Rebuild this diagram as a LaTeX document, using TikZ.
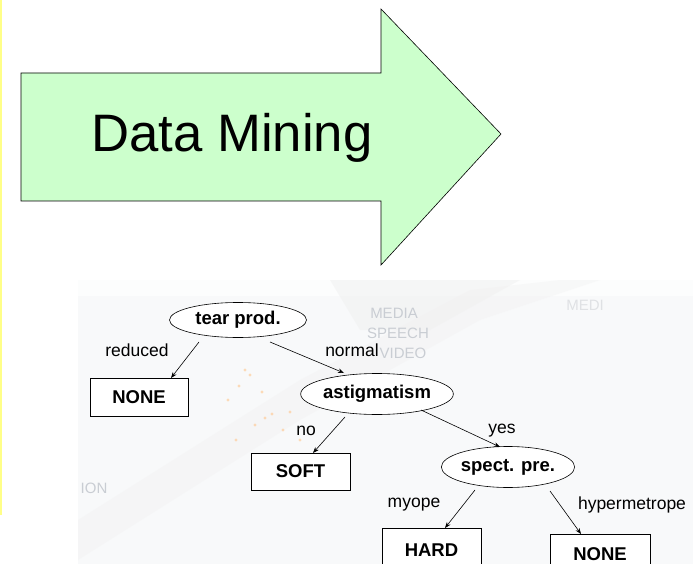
\documentclass[tikz,border=0pt]{standalone}
\usepackage{fontspec}
\setmainfont{Liberation Sans}
\usetikzlibrary{arrows.meta,shapes.geometric}
\definecolor{arrowgreen}{HTML}{CCFFCC}
\definecolor{sideyellow}{HTML}{FFFF88}
\definecolor{bgpale}{HTML}{F8F9FA}
\definecolor{faint}{HTML}{C9CDD3}
\begin{document}
\begin{tikzpicture}[x=1pt,y=-1pt,
  decision/.style={draw=black,fill=white,ellipse,line width=0.6pt,inner sep=0pt,font=\fontsize{18.5}{20}\selectfont\bfseries},
  leaf/.style={draw=black,fill=white,rectangle,line width=0.6pt,inner sep=0pt,font=\fontsize{18.5}{20}\selectfont\bfseries},
  edgelabel/.style={font=\fontsize{17.5}{19}\selectfont,inner sep=0pt},
  branch/.style={draw=black,line width=0.6pt,-{Stealth[length=6pt,width=4.5pt]}},
  bgtext/.style={text=faint,font=\fontsize{15}{17}\selectfont,inner sep=0pt}]
\useasboundingbox (0,0) rectangle (693,564);
\fill[white] (0,0) rectangle (693,564);
% side yellow line
\fill[sideyellow] (0,0) rectangle (2.2,515);
% big arrow
\draw[fill=arrowgreen,line width=0.6pt] (21,73) -- (381,73) -- (381,9) -- (501,134) -- (381,265) -- (381,201) -- (21,201) -- cycle;
\node (title) [font=\fontsize{52.7}{56}\selectfont,inner sep=0pt] at (232,138) {Data Mining};
% background photo area
\fill[bgpale] (78,280) rectangle (693,564);
\fill[white,opacity=0.7] (78,280) rectangle (693,296);
\fill[black!6,opacity=0.35] (78,520) -- (300,380) -- (470,290) -- (560,280) -- (600,280) -- (480,320) -- (300,420) -- (78,560) -- cycle;
\fill[black!6,opacity=0.5] (330,280) -- (520,280) -- (430,330) -- (360,330) -- cycle;
\node[bgtext] at (394,313) {MEDIA};
\node[bgtext] at (398,333) {SPEECH};
\node[bgtext] at (403,353) {VIDEO};
\node[bgtext] at (94,488) {ION};
\node[bgtext,text=faint!60] at (585,305) {MEDI};
\foreach \px/\py in {245/370,262/392,228/400,272/414,255/425,290/412,300/440,236/440,250/375,283/430,265/418,239/386}
  \fill[orange!45,opacity=0.6] (\px,\py) circle (1.6);
% tree
\node (tear) [decision,minimum width=137pt,minimum height=35pt] at (238,320) {tear prod.};
\node (none1) [leaf,minimum width=98pt,minimum height=38pt] at (139,397) {NONE};
\node (astig) [decision,minimum width=135pt,minimum height=41pt] at (377,394) {astigmatism};
\node (soft) [leaf,minimum width=99pt,minimum height=37pt] at (300.5,471.5) {SOFT};
\node (spect) [decision,minimum width=130pt,minimum height=41pt] at (508,467) {spect. pre.};
\node (hard) [leaf,minimum width=99pt,minimum height=44pt] at (431.5,550) {HARD};
\node (none2) [leaf,minimum width=100pt,minimum height=40pt] at (600,554) {NONE};
\node[edgelabel] (lreduced) at (137,350) {reduced};
\node[edgelabel] (lnormal) at (352,350) {normal};
\node[edgelabel] (lno) at (306,431) {no};
\node[edgelabel] (lyes) at (502,431) {yes};
\node[edgelabel] (lmyope) at (414,505) {myope};
\node[edgelabel] (lhyper) at (632,505) {hypermetrope};
\coordinate (a1) at (199,342); \coordinate (b1) at (171,378);
\coordinate (a2) at (270,342); \coordinate (b2) at (344,373);
\coordinate (a3) at (345,417); \coordinate (b3) at (313,453);
\coordinate (a4) at (421,410); \coordinate (b4) at (500,447);
\coordinate (a5) at (475,490); \coordinate (b5) at (445,528);
\coordinate (a6) at (550,491); \coordinate (b6) at (581,534);
\draw[branch] (a1) -- (b1);
\draw[branch] (a2) -- (b2);
\draw[branch] (a3) -- (b3);
\draw[branch] (a4) -- (b4);
\draw[branch] (a5) -- (b5);
\draw[branch] (a6) -- (b6);
\end{tikzpicture}
\end{document}
